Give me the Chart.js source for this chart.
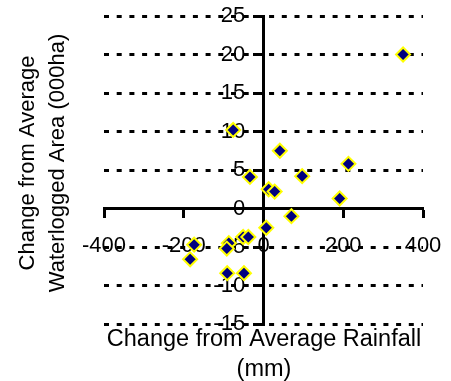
<!DOCTYPE html>
<html>
<head>
<meta charset="utf-8">
<script src="https://cdn.jsdelivr.net/npm/chart.js@4"></script>
<style>
  html, body { margin: 0; padding: 0; background: #fff; }
  #wrap { width: 451px; height: 381px; }
</style>
</head>
<body>
<div id="wrap"><canvas id="rainChart" width="451" height="381"></canvas></div>
<script>
// change from average rainfall (mm) vs change in waterlogged area (000ha)
const rainfall = [350, -76, 41, 213, -34, 97, 13, 28, 191, 70, 7, -51, -38, -87, -92, -174, -184, -91, -49];
const waterlogged = [20, 10.2, 7.5, 5.8, 4.1, 4.2, 2.5, 2.2, 1.3, -1.0, -2.5, -3.7, -3.7, -4.5, -5.2, -4.7, -6.6, -8.4, -8.4];
const xTicks = [-400, -200, 0, 200, 400];
const yTicks = [-15, -10, -5, 0, 5, 10, 15, 20, 25];
const xTitle = ["Change from Average Rainfall", "(mm)"];
const yTitle = ["Change from Average", "Waterlogged Area (000ha)"];

const FONT = "Arial, 'Liberation Sans', sans-serif";

const axisTitles = {
  id: "axisTitles",
  afterDraw(chart) {
    const c = chart.ctx;
    c.save();
    c.fillStyle = "#000";
    c.textAlign = "center";
    c.textBaseline = "middle";
    c.font = "23.5px " + FONT;
    c.fillText(xTitle[0], 264, 340);
    c.fillText(xTitle[1], 264, 370);
    c.font = "22px " + FONT;
    c.translate(43, 163);
    c.rotate(-Math.PI / 2);
    c.fillText(yTitle[0], 0, -15);
    c.fillText(yTitle[1], 0, 15);
    c.restore();
  }
};

// axes cross in the middle, so keep their label overflow out of the layout
const noPad = (s) => { s.paddingLeft = 0; s.paddingRight = 0; s.paddingTop = 0; s.paddingBottom = 0; };

new Chart(document.getElementById("rainChart"), {
  type: "scatter",
  data: {
    datasets: [{
      data: rainfall.map((x, i) => ({ x: x, y: waterlogged[i] })),
      pointStyle: "rectRot",
      pointRadius: 7,
      pointHoverRadius: 7,
      backgroundColor: "#000080",
      borderColor: "#FFFF00",
      borderWidth: 2
    }]
  },
  options: {
    responsive: false,
    animation: false,
    layout: { padding: { left: 104, right: 28, top: 16, bottom: 57 } },
    plugins: {
      legend: { display: false },
      tooltip: { enabled: false }
    },
    scales: {
      x: {
        type: "linear",
        position: { y: 0 },
        min: -400,
        max: 400,
        afterBuildTicks: (s) => { s.ticks = xTicks.map(v => ({ value: v })); },
        afterFit: noPad,
        grid: { drawOnChartArea: false, drawTicks: true, tickLength: 8, tickWidth: 3, tickColor: "#000" },
        border: { display: true, color: "#000", width: 3 },
        ticks: { color: "#000", font: { family: FONT, size: 22 }, padding: 16, maxRotation: 0 }
      },
      y: {
        type: "linear",
        position: { x: 0 },
        min: -15,
        max: 25,
        afterBuildTicks: (s) => { s.ticks = yTicks.map(v => ({ value: v })); },
        afterFit: noPad,
        grid: { color: "#000", lineWidth: 3, drawTicks: true, tickLength: 9, tickWidth: 3, tickColor: "#000", tickBorderDash: [] },
        border: { display: true, color: "#000", width: 3, dash: [5, 7.7] },
        ticks: { color: "#000", font: { family: FONT, size: 22 }, padding: 0, callback: (v) => v + "   " }
      }
    }
  },
  plugins: [axisTitles]
});
</script>
</body>
</html>
